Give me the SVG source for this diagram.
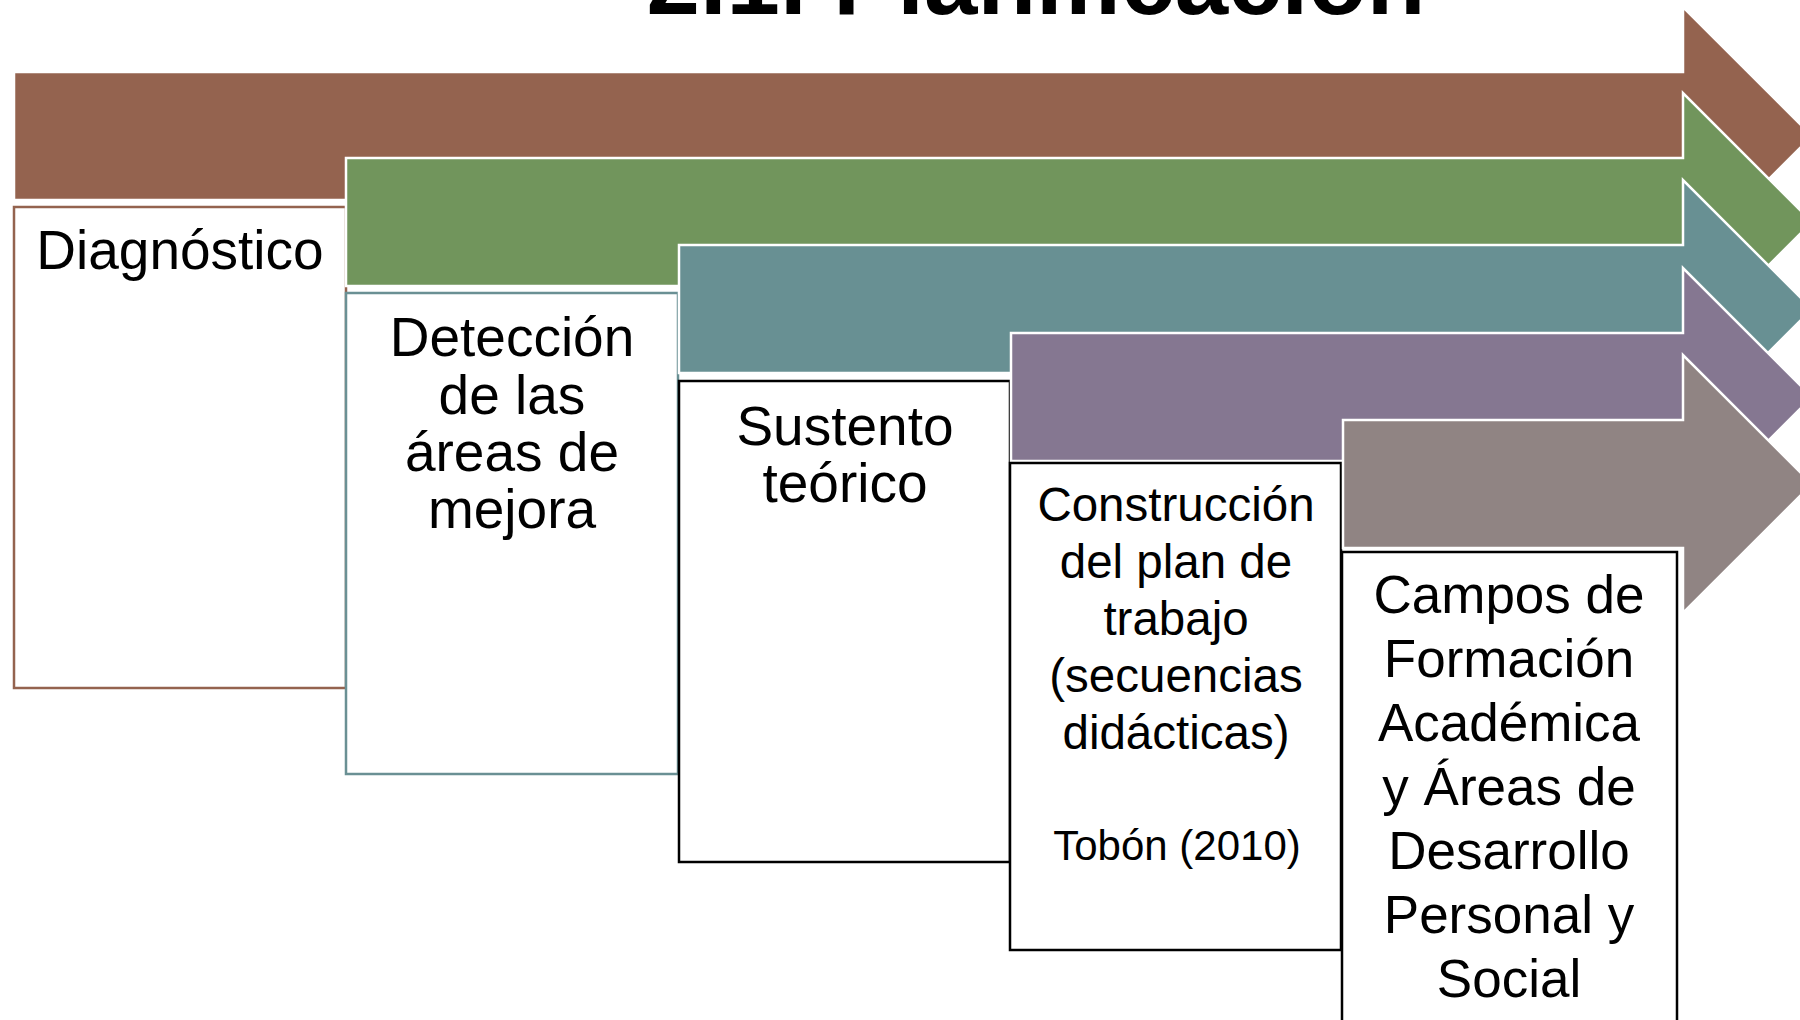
<svg xmlns="http://www.w3.org/2000/svg" width="1800" height="1020" viewBox="0 0 1800 1020">
<style>
.t{font-family:"Liberation Sans",Arial,sans-serif;fill:#000;text-anchor:middle}
.big{font-size:55px}
.mid{font-size:47.5px}
.cam{font-size:53px}
.arrow{stroke:#fff;stroke-width:2.5;stroke-linejoin:miter}
.box{fill:#fff;stroke-width:2.5}
</style>
<rect width="1800" height="1020" fill="#fff"/>
<text class="t" x="1036" y="14" font-size="96" font-weight="bold">2.1. Planificación</text>
<g id="connectors">
<path id="arrow1" class="arrow" fill="#94634F" d="M14,72 H1683 V7 L1812,136 L1683,265 V200 H14 Z"/>
</g>
<g id="node1">
<rect class="box" x="14" y="207" width="332" height="481" stroke="#94634F"/>
<text class="t big" x="180" y="269">Diagnóstico</text>
</g>
<g id="connectors2">
<path id="arrow2" class="arrow" fill="#71955C" d="M346,158 H1683 V93 L1812,222 L1683,351 V286 H346 Z"/>
</g>
<g id="node2">
<rect class="box" x="346" y="293" width="332" height="481" stroke="#6A9094"/>
<text class="t big" x="512"><tspan x="512" y="356">Detección</tspan><tspan x="512" y="414">de las</tspan><tspan x="512" y="471">áreas de</tspan><tspan x="512" y="528">mejora</tspan></text>
</g>
<g id="connectors3">
<path id="arrow3" class="arrow" fill="#689093" d="M679,245 H1683 V180 L1812,309 L1683,438 V373 H679 Z"/>
</g>
<g id="node3">
<rect class="box" x="679" y="381" width="331" height="481" stroke="#000"/>
<text class="t big"><tspan x="845" y="445">Sustento</tspan><tspan x="845" y="502">teórico</tspan></text>
</g>
<g id="connectors4">
<path id="arrow4" class="arrow" fill="#857791" d="M1011,333 H1683 V268 L1812,397 L1683,526 V461 H1011 Z"/>
</g>
<g id="node4">
<rect class="box" x="1010" y="463" width="331" height="487" stroke="#000"/>
<text class="t mid"><tspan x="1176" y="521">Construcción</tspan><tspan x="1176" y="578">del plan de</tspan><tspan x="1176" y="635">trabajo</tspan><tspan x="1176" y="692">(secuencias</tspan><tspan x="1176" y="749">didácticas)</tspan></text>
<text class="t" x="1177" y="860" font-size="42">Tobón (2010)</text>
</g>
<g id="connectors5">
<path id="arrow5" class="arrow" fill="#908483" d="M1343,420 H1683 V355 L1812,484 L1683,613 V548 H1343 Z"/>
</g>
<g id="node5">
<rect class="box" x="1342" y="552" width="335" height="490" stroke="#000"/>
<text class="t cam"><tspan x="1509" y="613">Campos de</tspan><tspan x="1509" y="677">Formación</tspan><tspan x="1509" y="741">Académica</tspan><tspan x="1509" y="805">y Áreas de</tspan><tspan x="1509" y="869">Desarrollo</tspan><tspan x="1509" y="933">Personal y</tspan><tspan x="1509" y="997">Social</tspan></text>
</g>
</svg>
